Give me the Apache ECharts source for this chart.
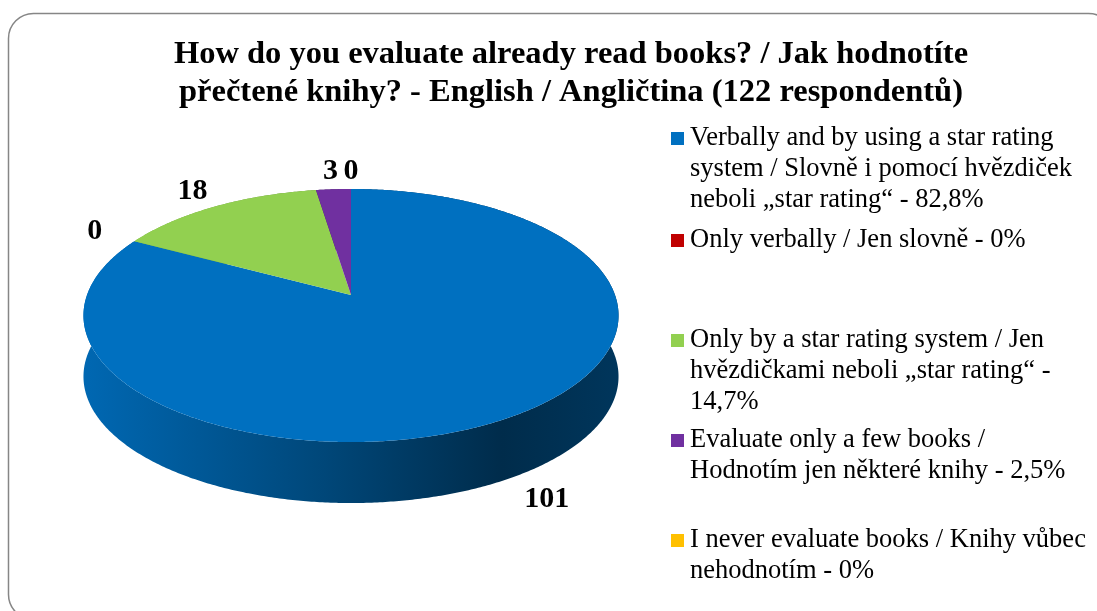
<!DOCTYPE html>
<html>
<head>
<meta charset="utf-8">
<script src="https://cdn.jsdelivr.net/npm/echarts@6/dist/echarts.min.js"></script>
<style>
  html, body { margin: 0; padding: 0; background: #fff; }
  #chart-container { width: 1097px; height: 611px; }
</style>
</head>
<body>
<div id="chart-container"></div>
<script>
const titleText = 'How do you evaluate already read books? / Jak hodnotíte\npřečtené knihy? - English / Angličtina (122 respondentů)';
const categories = [
  'Verbally and by using a star rating\nsystem / Slovně i pomocí hvězdiček\nneboli „star rating“ - 82,8%',
  'Only verbally / Jen slovně - 0%',
  'Only by a star rating system / Jen\nhvězdičkami neboli „star rating“ -\n14,7%',
  'Evaluate only a few books /\nHodnotím jen některé knihy - 2,5%',
  'I never evaluate books / Knihy vůbec\nnehodnotím - 0%'
];
const counts = [101, 0, 18, 3, 0];
const colors = ['#0070C0', '#C00000', '#92D050', '#7030A0', '#FFC000'];
const legendTops = [123, 225, 325, 425, 525];

// 3D pie geometry, in px (perspective tilt)
const CX = 351, CY = 295, A = 264, B = 123.2, P = 0.162, DEPTH = 61;
const FONT = '"Liberation Serif", "Times New Roman", serif';

const total = counts.reduce((a, b) => a + b, 0);
const starts = [];
let acc = 0;
counts.forEach(c => { starts.push(acc); acc += c; });

// phi: clockwise from 12 o'clock, k: radius factor, dy: vertical offset
function project(phi, k, dy) {
  const u = k * Math.sin(phi), v = -k * Math.cos(phi);
  const d = 1 - P * v;
  return [CX + A * u / d, CY + B * v / d + dy];
}

function arc(a0, a1, k, dy) {
  const pts = [];
  const n = Math.max(2, Math.ceil((a1 - a0) / (Math.PI / 360)));
  for (let i = 0; i <= n; i++) {
    pts.push(project(a0 + (a1 - a0) * i / n, k, dy));
  }
  return pts;
}

function shade(hex, f) {
  const c = echarts.color.parse(hex);
  return 'rgb(' + [0, 1, 2].map(i => Math.round(c[i] * f)).join(',') + ')';
}

function renderWall(params, api) {
  const s = api.value(0), v = api.value(1);
  if (!(v > 0)) return null;
  const a0 = s / total * 2 * Math.PI, a1 = (s + v) / total * 2 * Math.PI;
  const col = colors[params.dataIndex];
  const top = arc(a0, a1, 1, 0);
  const bottom = arc(a0, a1, 1, DEPTH).reverse();
  return {
    type: 'polygon',
    z2: 1,
    shape: { points: top.concat(bottom) },
    style: {
      fill: new echarts.graphic.LinearGradient(CX - 270, 0, CX + 270, 0, [
        { offset: 0, color: shade(col, 0.93) },
        { offset: 0.45, color: shade(col, 0.63) },
        { offset: 0.78, color: shade(col, 0.39) },
        { offset: 1, color: shade(col, 0.48) }
      ], true)
    }
  };
}

function renderTop(params, api) {
  const s = api.value(0), v = api.value(1);
  const a0 = s / total * 2 * Math.PI, a1 = (s + v) / total * 2 * Math.PI;
  const children = [];
  if (v > 0) {
    children.push({
      type: 'polygon',
      z2: 10,
      shape: { points: [[CX, CY]].concat(arc(a0, a1, 1, 0)) },
      style: { fill: api.visual('color') }
    });
  }
  const mid = (a0 + a1) / 2;
  const p = project(mid, 1.2, 0);
  const near = Math.max(0, -Math.cos(mid));
  children.push({
    type: 'text',
    z2: 20,
    x: p[0],
    y: p[1] + DEPTH * near,
    style: {
      text: String(v),
      font: 'bold 30px ' + FONT,
      fill: '#000',
      align: 'center',
      verticalAlign: 'middle'
    }
  });
  return { type: 'group', children: children };
}

var chartDom = document.getElementById('chart-container');
var myChart = echarts.init(chartDom);
var option;

const rich = {
  t: { fontSize: 26.5, lineHeight: 31, fontFamily: FONT, color: '#000' },
  g: { width: 6, lineHeight: 31 },
  g2: { width: 19, lineHeight: 31 }
};
colors.forEach((c, i) => {
  rich['m' + i] = { width: 13, height: 13, backgroundColor: c, verticalAlign: 'middle', lineHeight: 31 };
});

option = {
  animation: false,
  backgroundColor: '#fff',
  title: {
    text: titleText,
    left: 566,
    top: 31,
    textAlign: 'center',
    textStyle: {
      fontFamily: FONT,
      fontWeight: 'bold',
      fontSize: 32.5,
      lineHeight: 38,
      color: '#000'
    }
  },
  legend: categories.map((name, i) => ({
    data: [name],
    orient: 'vertical',
    left: 666,
    top: legendTops[i],
    padding: 0,
    itemWidth: 0,
    itemHeight: 0,
    selectedMode: false,
    formatter: function (n) {
      const k = categories.indexOf(n);
      return n.split('\n').map((l, j) =>
        (j === 0 ? '{m' + k + '|}{g|}' : '{g2|}') + '{t|' + l + '}').join('\n');
    },
    textStyle: { fontSize: 26.5, lineHeight: 31, fontFamily: FONT, color: '#000', rich: rich }
  })),
  graphic: [{
    type: 'rect',
    z: -10,
    shape: { x: 8.5, y: 13.5, width: 1105, height: 606, r: 25 },
    style: { fill: 'none', stroke: '#868686', lineWidth: 1.5 }
  }],
  series: [{
    type: 'custom',
    name: 'wall',
    coordinateSystem: 'none',
    z: 1,
    silent: true,
    renderItem: renderWall,
    data: counts.map((c, i) => [starts[i], c])
  }].concat(categories.map((name, i) => ({
    type: 'custom',
    name: name,
    coordinateSystem: 'none',
    z: 2,
    silent: true,
    itemStyle: { color: colors[i] },
    renderItem: renderTop,
    data: [[starts[i], counts[i]]]
  })))
};

option && myChart.setOption(option);
</script>
</body>
</html>
